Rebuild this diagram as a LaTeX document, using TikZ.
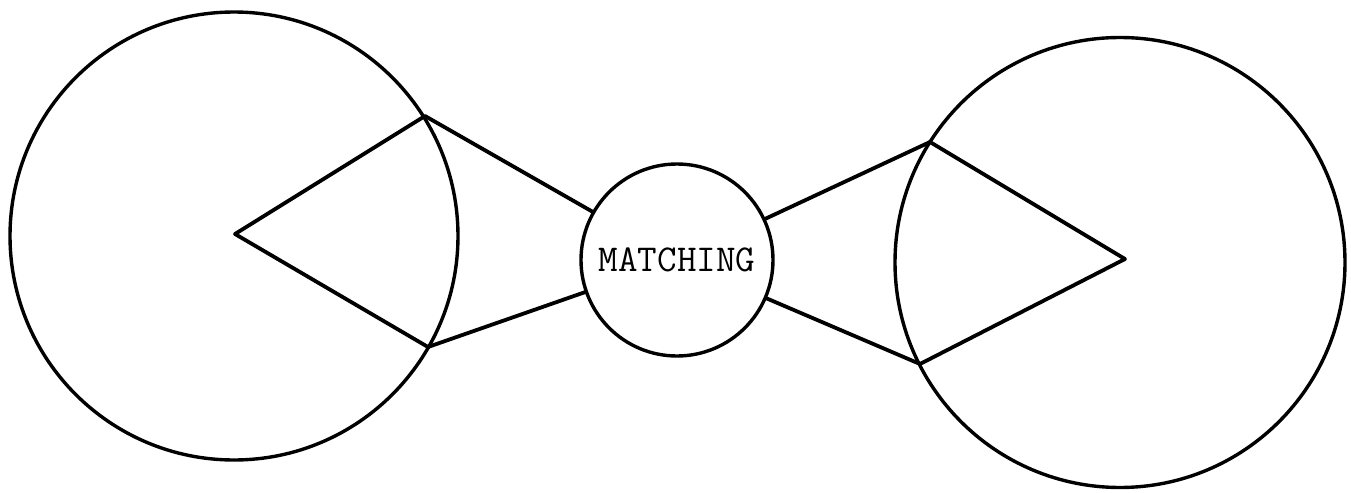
\documentclass[tikz,border=0pt]{standalone}
\begin{document}
\begin{tikzpicture}[x=0.5pt,y=-0.5pt,
  ink/.style={line width=1.9pt,black,line cap=round,line join=round},
  ring/.style={circle,draw,line width=1.7pt,inner sep=0pt}]
\useasboundingbox (0,0) rectangle (1351,493);
\node[ring,minimum size=224pt] (L) at (234,236) {};
\node[ring,minimum size=225pt] (R) at (1120,262.5) {};
\node[ring,minimum size=96pt,font=\fontsize{19}{21}\selectfont\ttfamily] (M) at (677,260) {MATCHING};
\coordinate (Lc) at (235,234);
\coordinate (Lu) at (425,116);
\coordinate (Ld) at (428,347);
\coordinate (Rc) at (1125,259);
\coordinate (Ru) at (930,142);
\coordinate (Rd) at (920,364);
\draw[ink] (Lu) -- (Lc) -- (Ld);
\draw[ink] (Ru) -- (Rc) -- (Rd);
\draw[ink] (Lu) -- (M);
\draw[ink] (Ld) -- (M);
\draw[ink] (Ru) -- (M);
\draw[ink] (Rd) -- (M);
\end{tikzpicture}
\end{document}
